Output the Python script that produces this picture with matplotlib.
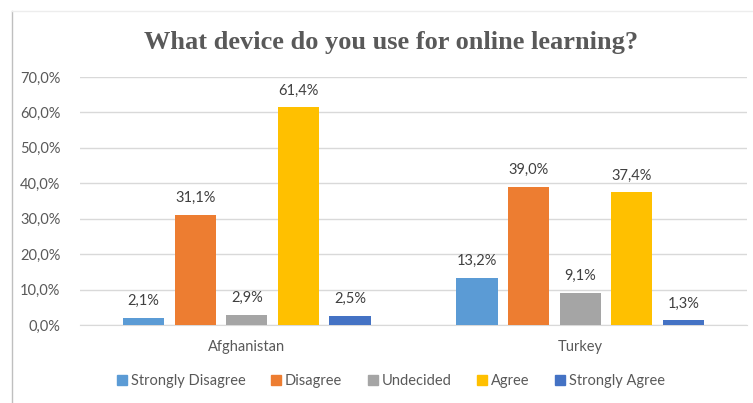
import matplotlib
matplotlib.use("Agg")
import matplotlib.pyplot as plt
from matplotlib.lines import Line2D
import numpy as np

countries = ["Afghanistan", "Turkey"]
responses = ["Strongly Disagree", "Disagree", "Undecided", "Agree", "Strongly Agree"]
strongly_disagree = [2.1, 13.2]
disagree = [31.1, 39.0]
undecided = [2.9, 9.1]
agree = [61.4, 37.4]
strongly_agree = [2.5, 1.3]
series = [strongly_disagree, disagree, undecided, agree, strongly_agree]
colors = ["#5B9BD5", "#ED7D31", "#A5A5A5", "#FFC000", "#4472C4"]
yticks = [0, 10, 20, 30, 40, 50, 60, 70]

W, H = 753, 403
fig = plt.figure(figsize=(W / 100, H / 100), dpi=100)
fig.patch.set_facecolor("white")

# plot area in pixel coordinates
left, right, top, bottom = 80, 747, 77, 325
ax = fig.add_axes([left / W, 1 - bottom / H, (right - left) / W, (bottom - top) / H])
ax.set_xlim(-0.5, 1.5)
ax.set_ylim(0, 70)

font = ["Lato", "DejaVu Sans"]
txt_color = "#595959"

spacing = 0.1548
width = 0.123
x = np.arange(len(countries))
for i, (vals, c) in enumerate(zip(series, colors)):
    pos = x + (i - 2) * spacing
    ax.bar(pos, vals, width=width, color=c, zorder=3)
    for p, v in zip(pos, vals):
        ax.text(p, v + 2.8, f"{v:.1f}%".replace(".", ","), ha="center", va="bottom",
                fontsize=10.5, color="#404040", family=font, zorder=4)

ax.set_yticks(yticks)
ax.set_yticklabels([f"{t:.1f}%".replace(".", ",") for t in yticks], family=font,
                   fontsize=10.5, color=txt_color)
ax.yaxis.grid(True, color="#D9D9D9", linewidth=1, zorder=0)
ax.tick_params(axis="y", length=0, pad=14)
ax.set_xticks(x)
ax.set_xticklabels(countries, family=font, fontsize=10.5, color=txt_color)
ax.tick_params(axis="x", length=0, pad=11)
for s in ["top", "right", "left"]:
    ax.spines[s].set_visible(False)
ax.spines["bottom"].set_color("#D9D9D9")
ax.set_facecolor("white")

fig.text(391 / W, 1 - 42 / H, "What device do you use for online learning?",
         ha="center", va="center", family="Liberation Serif", fontweight="bold",
         fontsize=19, color=txt_color)

handles = [Line2D([], [], marker="s", linestyle="none", markersize=7,
                  markerfacecolor=c, markeredgecolor=c) for c in colors]
fig.legend(handles, responses, loc="center", bbox_to_anchor=(391 / W, 1 - 381 / H),
           ncol=5, frameon=False, handletextpad=0.25, handlelength=0.7,
           columnspacing=1.75, prop={"family": font, "size": 10.5}, labelcolor=txt_color)

# chart frame edges
fig.add_artist(Line2D([12 / W, 12 / W], [0, 1 - 11 / H], transform=fig.transFigure, color="#BFBFBF", lw=1))
fig.add_artist(Line2D([12 / W, 1], [1 - 11 / H, 1 - 11 / H], transform=fig.transFigure, color="#EDEDED", lw=1))

fig.savefig("out.png", dpi=100, facecolor="white")
